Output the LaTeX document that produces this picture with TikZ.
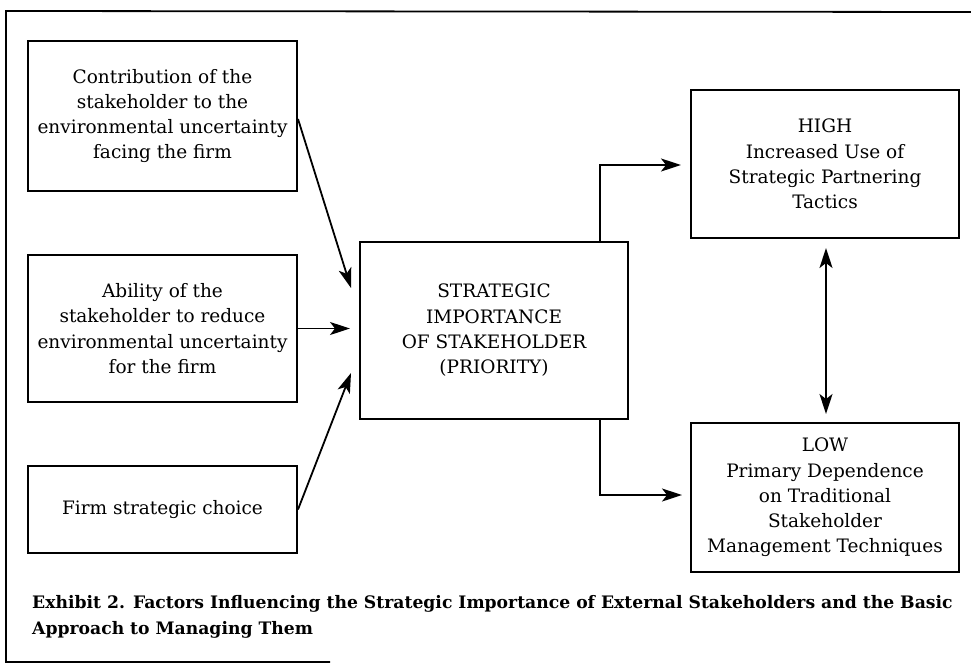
\documentclass[tikz,border=0pt]{standalone}
\usepackage{fontspec}
\setmainfont{DejaVu Serif}
\newfontfamily\capfont{DejaVu Serif}
\usetikzlibrary{arrows.meta,calc}
\tikzset{
  box/.style={draw, line width=2pt, rectangle, align=center, inner sep=0pt,
    font=\fontsize{18.5}{25.3}\selectfont},
  arr/.style={line width=1.8pt, -{Stealth[length=20pt,width=13pt,inset=5pt]}},
  darr/.style={line width=1.8pt, {Stealth[length=20pt,width=13pt,inset=5pt]}-{Stealth[length=20pt,width=13pt,inset=5pt]}},
  frameline/.style={line width=1.8pt},
  captext/.style={anchor=base west, inner sep=0pt, font=\capfont\bfseries\fontsize{17.2}{20}\selectfont}
}
\begin{document}
\begin{tikzpicture}[x=1pt,y=-1pt]
\useasboundingbox (0,0) rectangle (971,664);
\draw[frameline] (980,12) -- (6,11) -- (6,662) -- (330,662);

\node[box, minimum width=269pt, minimum height=150pt] (b1) at (162.5,116)
  {Contribution of the\\stakeholder to the\\environmental uncertainty\\facing the firm};
\node[box, minimum width=269pt, minimum height=147pt] (b2) at (162.5,328.5)
  {Ability of the\\stakeholder to reduce\\environmental uncertainty\\for the firm};
\node[box, minimum width=269pt, minimum height=87pt] (b3) at (162.5,509.5)
  {Firm strategic choice};
\node[box, minimum width=268pt, minimum height=177pt] (c) at (494,330.5)
  {STRATEGIC\\IMPORTANCE\\OF STAKEHOLDER\\(PRIORITY)};
\node[box, minimum width=268pt, minimum height=148pt] (hi) at (825,164)
  {HIGH\\Increased Use of\\Strategic Partnering\\Tactics};
\node[box, minimum width=268pt, minimum height=149pt] (lo) at (825,497.5)
  {LOW\\Primary Dependence\\on Traditional\\Stakeholder\\Management Techniques};

\coordinate (t1) at (351,288);
\coordinate (t3) at (351,373);
\draw[arr] ([yshift=-3pt]b1.east) -- (t1);
\draw[arr, shorten >=9pt] (b2.east) -- (b2.east -| c.west);
\draw[arr] (b3.east) -- (t3);
\draw[arr] ([xshift=-29pt]c.north east) |- ([xshift=-9pt,yshift=-1pt]hi.west);
\draw[arr] ([xshift=-29pt]c.south east) |- ([xshift=-8pt,yshift=2.5pt]lo.west);
\draw[darr, shorten <=9pt, shorten >=8pt] ([xshift=1pt]hi.south) -- ([xshift=1pt]lo.north);

\node[captext] (cap1) at (32,608) {Exhibit 2. Factors Influencing the Strategic Importance of External Stakeholders and the Basic};
\node[captext] (cap2) at (32,634) {Approach to Managing Them};
\end{tikzpicture}
\end{document}
